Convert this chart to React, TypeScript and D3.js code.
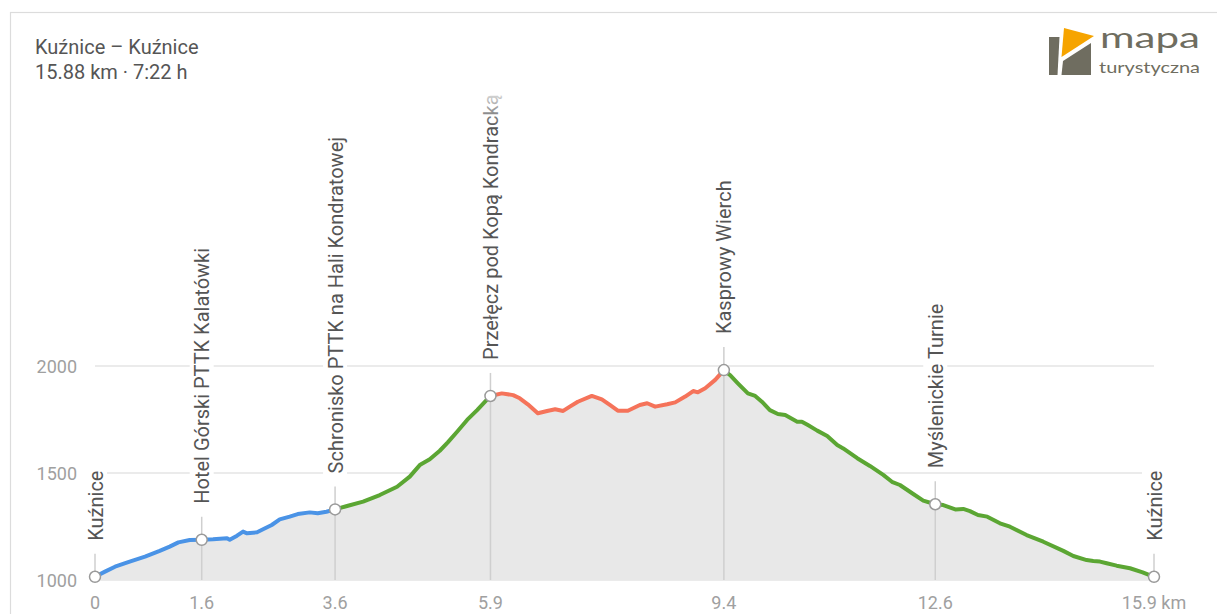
import React, { useEffect, useRef } from "react";
import * as d3 from "d3";

const titleText = "Kuźnice – Kuźnice";
const subtitleText = "15.88 km · 7:22 h";

const distKm = [
  0, 0.15, 0.3, 0.52, 0.75, 0.97, 1.12, 1.25, 1.42, 1.6, 1.77, 1.98, 2.02, 2.13, 2.22, 2.28, 2.43, 2.52,
  2.65, 2.77, 2.92, 3.04, 3.22, 3.34, 3.47, 3.6, 3.78, 4.02, 4.27, 4.53, 4.72, 4.87, 5.02, 5.17, 5.29,
  5.43, 5.58, 5.73, 5.93, 6.1, 6.27, 6.37, 6.49, 6.64, 6.78, 6.9, 7.02, 7.12, 7.24, 7.45, 7.6, 7.72,
  7.84, 7.99, 8.17, 8.28, 8.4, 8.58, 8.7, 8.85, 8.97, 9.04, 9.15, 9.3, 9.43, 9.52, 9.64, 9.79, 9.9,
  10.0, 10.12, 10.24, 10.35, 10.53, 10.6, 10.69, 10.83, 10.98, 11.13, 11.22, 11.43, 11.62, 11.82,
  11.95, 12.07, 12.27, 12.42, 12.6, 12.72, 12.9, 13.02, 13.12, 13.24, 13.38, 13.57, 13.72, 13.97,
  14.22, 14.52, 14.67, 14.87, 14.97, 15.07, 15.17, 15.32, 15.52, 15.71, 15.88,
];
const elevM = [
  1015, 1039, 1062, 1086, 1109, 1136, 1156, 1176, 1187, 1188, 1190, 1195, 1188, 1207, 1226, 1218, 1223,
  1237, 1257, 1283, 1296, 1308, 1316, 1312, 1319, 1330, 1346, 1366, 1397, 1436, 1483, 1537, 1564, 1604,
  1643, 1693, 1748, 1794, 1860, 1872, 1864, 1849, 1821, 1779, 1790, 1798, 1790, 1810, 1833, 1860, 1844,
  1818, 1791, 1791, 1818, 1826, 1810, 1821, 1830, 1857, 1883, 1877, 1896, 1935, 1981, 1958, 1919, 1872,
  1860, 1833, 1794, 1776, 1771, 1740, 1740, 1724, 1698, 1673, 1631, 1615, 1569, 1533, 1491, 1459, 1444,
  1402, 1371, 1354, 1350, 1330, 1332, 1322, 1304, 1296, 1265, 1249, 1210, 1179, 1136, 1112, 1093, 1089,
  1086, 1078, 1067, 1055, 1036, 1015,
];

const waypointNames = [
  "Kuźnice",
  "Hotel Górski PTTK Kalatówki",
  "Schronisko PTTK na Hali Kondratowej",
  "Przełęcz pod Kopą Kondracką",
  "Kasprowy Wierch",
  "Myślenickie Turnie",
  "Kuźnice",
];
const waypointKm = [0, 1.6, 3.6, 5.93, 9.43, 12.6, 15.88];
const waypointElev = [1015, 1188, 1330, 1860, 1981, 1354, 1015];
const xTickLabels = ["0", "1.6", "3.6", "5.9", "9.4", "12.6", "15.9 km"];

const segmentEndKm = [3.6, 5.93, 9.43, 15.88];
const segmentLevel = ["easy", "moderate", "hard", "moderate"];
const yTicks = [1000, 1500, 2000];

const levelColor: Record<string, string> = {
  easy: "#4a93e6",
  moderate: "#5ba633",
  hard: "#f5735a",
};

export default function App() {
  const ref = useRef<SVGSVGElement | null>(null);

  useEffect(() => {
    const svg = d3.select(ref.current);
    svg.selectAll("*").remove();
    const W = 1217;
    const H = 614;
    const font = "Roboto, 'Noto Sans', sans-serif";

    const defs = svg.append("defs");
    const grad = defs
      .append("linearGradient")
      .attr("id", "fadeTop")
      .attr("x1", 0)
      .attr("y1", 0)
      .attr("x2", 0)
      .attr("y2", 1);
    grad.append("stop").attr("offset", 0).attr("stop-color", "#fff").attr("stop-opacity", 1);
    grad.append("stop").attr("offset", 1).attr("stop-color", "#fff").attr("stop-opacity", 0);

    svg.append("rect").attr("width", W).attr("height", H).attr("fill", "#fff");
    // card border
    svg
      .append("rect")
      .attr("x", 10.5)
      .attr("y", 12.5)
      .attr("width", 1400)
      .attr("height", 800)
      .attr("fill", "#fff")
      .attr("stroke", "#dcdcdc")
      .attr("stroke-width", 1.2);

    // title
    svg
      .append("text")
      .attr("x", 35)
      .attr("y", 54)
      .attr("font-family", font)
      .attr("font-size", 20)
      .attr("fill", "#555")
      .text(titleText);
    svg
      .append("text")
      .attr("x", 35)
      .attr("y", 79)
      .attr("font-family", font)
      .attr("font-size", 20)
      .attr("fill", "#555")
      .text(subtitleText);

    // logo
    const logo = svg.append("g");
    const logoGray = "#6f6d60";
    logo
      .append("polygon")
      .attr("points", "1049,37 1059.5,37 1057.5,75 1049,75")
      .attr("fill", logoGray);
    logo
      .append("polygon")
      .attr("points", "1063,61 1091,43 1091,75 1061.5,75")
      .attr("fill", logoGray);
    logo
      .append("polygon")
      .attr("points", "1064,28 1094,36 1061.5,57")
      .attr("fill", "#f6a400");
    logo
      .append("text")
      .attr("x", 1100)
      .attr("y", 48)
      .attr("font-family", "Lato, Roboto, sans-serif")
      .attr("font-size", 28)
      .attr("textLength", 100)
      .attr("lengthAdjust", "spacingAndGlyphs")
      .attr("fill", logoGray)
      .text("mapa");
    logo
      .append("text")
      .attr("x", 1099)
      .attr("y", 73)
      .attr("font-family", "Lato, Roboto, sans-serif")
      .attr("font-size", 16)
      .attr("textLength", 101)
      .attr("lengthAdjust", "spacingAndGlyphs")
      .attr("fill", logoGray)
      .text("turystyczna");

    const x = d3.scaleLinear().domain([0, 15.88]).range([95, 1154]);
    const y = d3.scaleLinear().domain([1000, 2000]).range([580, 366]);

    const pts = distKm.map((d, i) => ({ d, e: elevM[i] }));

    // grid
    const grid = svg.append("g");
    yTicks.forEach((t) => {
      grid
        .append("line")
        .attr("x1", x(0))
        .attr("x2", x(15.88))
        .attr("y1", y(t))
        .attr("y2", y(t))
        .attr("stroke", "#e4e4e4")
        .attr("stroke-width", 1.5);
      grid
        .append("text")
        .attr("x", 77)
        .attr("y", y(t) + 6.5)
        .attr("text-anchor", "end")
        .attr("font-family", font)
        .attr("font-size", 18)
        .attr("fill", "#a0a0a0")
        .text(String(t));
    });

    // area
    const area = d3
      .area<{ d: number; e: number }>()
      .x((p) => x(p.d))
      .y0(y(1000))
      .y1((p) => y(p.e));
    svg.append("path").datum(pts).attr("d", area).attr("fill", "#e8e8e8");

    // waypoint vertical lines
    waypointKm.forEach((k, i) => {
      svg
        .append("line")
        .attr("x1", x(k))
        .attr("x2", x(k))
        .attr("y1", y(waypointElev[i]) - 23)
        .attr("y2", y(1000))
        .attr("stroke", "#cfcfcf")
        .attr("stroke-width", 1.5);
    });

    // colored segments
    const line = d3
      .line<{ d: number; e: number }>()
      .x((p) => x(p.d))
      .y((p) => y(p.e));
    let start = 0;
    segmentEndKm.forEach((end, si) => {
      const seg = pts.filter((p) => p.d >= start - 1e-9 && p.d <= end + 1e-9);
      svg
        .append("path")
        .datum(seg)
        .attr("d", line)
        .attr("fill", "none")
        .attr("stroke", levelColor[segmentLevel[si]])
        .attr("stroke-width", 4)
        .attr("stroke-linejoin", "round")
        .attr("stroke-linecap", "butt");
      start = end;
    });

    // markers
    waypointKm.forEach((k, i) => {
      svg
        .append("circle")
        .attr("cx", x(k))
        .attr("cy", y(waypointElev[i]))
        .attr("r", 5.5)
        .attr("fill", "#fff")
        .attr("stroke", "#9a9a9a")
        .attr("stroke-width", 1.5);
    });

    // waypoint labels with white backgrounds
    waypointKm.forEach((k, i) => {
      const g = svg
        .append("g")
        .attr("transform", `translate(${x(k)},${y(waypointElev[i]) - 36}) rotate(-90)`);
      const bg = g.append("rect").attr("fill", "#fff");
      const t = g
        .append("text")
        .attr("x", 0)
        .attr("y", 7.5)
        .attr("font-family", font)
        .attr("font-size", 20)
        .attr("fill", "#555")
        .text(waypointNames[i]);
      const len = (t.node() as SVGTextElement).getComputedTextLength();
      bg.attr("x", -3).attr("y", -12).attr("width", len + 6).attr("height", 24);
    });

    // top fade
    svg
      .append("rect")
      .attr("x", 60)
      .attr("y", 84)
      .attr("width", 1120)
      .attr("height", 44)
      .attr("fill", "url(#fadeTop)");

    // x tick labels
    waypointKm.forEach((k, i) => {
      svg
        .append("text")
        .attr("x", x(k))
        .attr("y", 609)
        .attr("text-anchor", "middle")
        .attr("font-family", font)
        .attr("font-size", 18)
        .attr("fill", "#a0a0a0")
        .text(xTickLabels[i]);
    });
  }, []);

  return (
    <svg
      ref={ref}
      width={1217}
      height={614}
      style={{ position: "absolute", left: 0, top: 0, display: "block" }}
    />
  );
}
